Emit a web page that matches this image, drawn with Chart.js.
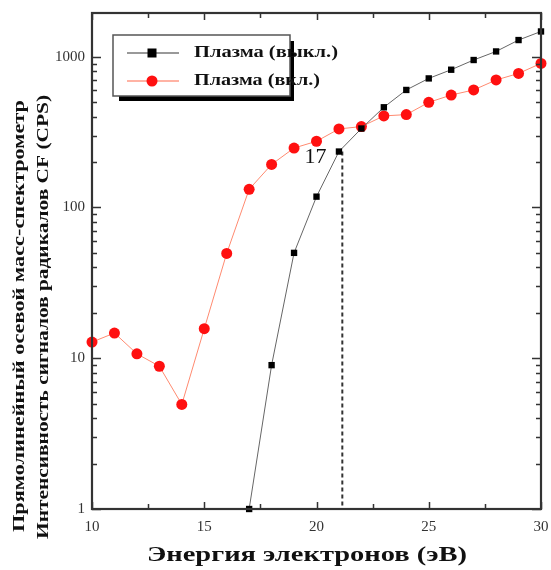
<!DOCTYPE html>
<html>
<head>
<meta charset="utf-8">
<script src="https://cdn.jsdelivr.net/npm/chart.js@4.4.0/dist/chart.umd.min.js"></script>
<style>
  body { margin: 0; background: #fff; }
</style>
</head>
<body>
<canvas id="massChart" width="551" height="570"></canvas>
<script>
const energy = [10, 11, 12, 13, 14, 15, 16, 17, 18, 19, 20, 21, 22, 23, 24, 25, 26, 27, 28, 29, 30];

const plasmaOff = [null, null, null, null, null, null, null,
  1, 9, 50, 118, 235, 334, 462, 602, 718, 820, 951, 1084, 1290, 1471];

const plasmaOn = [12.8, 14.7, 10.7, 8.85, 4.94, 15.7, 49.6, 132, 193, 248, 275,
  332, 344, 405, 413, 498, 557, 602, 701, 775, 903];

const markerEnergy = [21.15, 21.15];
const markerValues = [235, 1];
const markerLabel = "17";

const xTicks = [10, 15, 20, 25, 30];
const yTicks = [1, 10, 100, 1000];

const seriesNames = ["Плазма (выкл.)", "Плазма (вкл.)"];
const xTitle = "Энергия электронов (эВ)";
const yTitle = ["Прямолинейный осевой масс-спектрометр", "Интенсивность сигналов радикалов CF (CPS)"];

const SERIF = "'Liberation Serif', 'DejaVu Serif', serif";

function toPoints(xs, ys) {
  return xs.map((x, i) => ({ x: x, y: ys[i] })).filter((p) => p.y !== null);
}

// text squeezed or stretched along its baseline to a given width
function drawWideText(ctx, text, x, y, width, font, angle) {
  ctx.save();
  ctx.font = font;
  const w = ctx.measureText(text).width;
  ctx.translate(x, y);
  ctx.rotate(angle || 0);
  ctx.scale(width / w, 1);
  ctx.textAlign = "center";
  ctx.textBaseline = "middle";
  ctx.fillText(text, 0, 0);
  ctx.restore();
}

const framePlugin = {
  id: "frame",
  afterDatasetsDraw(chart) {
    const ctx = chart.ctx;
    const a = chart.chartArea;
    const xs = chart.scales.x;
    const ys = chart.scales.y;
    ctx.save();
    ctx.strokeStyle = "#333";
    ctx.lineWidth = 1.5;
    ctx.beginPath();
    // x ticks, inward, bottom and top
    for (let v = 10; v <= 30; v += 2.5) {
      const px = Math.round(xs.getPixelForValue(v)) + 0.5;
      const len = v % 5 === 0 ? 7 : 5;
      ctx.moveTo(px, a.bottom);
      ctx.lineTo(px, a.bottom - len);
      ctx.moveTo(px, a.top);
      ctx.lineTo(px, a.top + len);
    }
    // y ticks, log decades with minors
    for (let d = 1; d <= 1000; d *= 10) {
      for (let m = 1; m <= 9; m++) {
        const v = d * m;
        if (v > ys.max) break;
        const py = Math.round(ys.getPixelForValue(v)) + 0.5;
        const len = m === 1 ? 9 : 5;
        ctx.moveTo(a.left, py);
        ctx.lineTo(a.left + len, py);
        ctx.moveTo(a.right, py);
        ctx.lineTo(a.right - len, py);
      }
    }
    ctx.stroke();
    ctx.lineWidth = 2.2;
    ctx.strokeRect(a.left, a.top, a.right - a.left, a.bottom - a.top);

    // value label next to the marker
    ctx.fillStyle = "#111";
    ctx.font = "22px " + SERIF;
    ctx.textAlign = "center";
    ctx.textBaseline = "middle";
    ctx.fillText(markerLabel, xs.getPixelForValue(19.95), ys.getPixelForValue(214));

    // legend box
    const lx = 113, ly = 35, lw = 177, lh = 61;
    ctx.fillStyle = "#000";
    ctx.fillRect(lx + 6, ly + lh, lw - 2, 5);
    ctx.fillRect(lx + lw, ly + 6, 4, lh - 1);
    ctx.strokeStyle = "#555";
    ctx.lineWidth = 1.5;
    ctx.strokeRect(lx, ly, lw, lh);

    const rows = [
      { y: 53, line: "#777", mark: "#000", square: true, name: seriesNames[0], w: 144 },
      { y: 81, line: "#ff9a86", mark: "#ff1010", square: false, name: seriesNames[1], w: 126 },
    ];
    rows.forEach((r) => {
      ctx.strokeStyle = r.line;
      ctx.lineWidth = 1.5;
      ctx.beginPath();
      ctx.moveTo(127, r.y);
      ctx.lineTo(179, r.y);
      ctx.stroke();
      ctx.fillStyle = r.mark;
      if (r.square) {
        ctx.fillRect(147.5, r.y - 4.5, 9, 9);
      } else {
        ctx.beginPath();
        ctx.arc(152, r.y, 5.5, 0, Math.PI * 2);
        ctx.fill();
      }
      ctx.fillStyle = "#111";
      drawWideText(ctx, r.name, 194 + r.w / 2, r.y, r.w, "bold 16px " + SERIF);
    });

    // axis titles
    ctx.fillStyle = "#111";
    drawWideText(ctx, xTitle, 307, 556, 320, "bold 21px " + SERIF);
    drawWideText(ctx, yTitle[0], 20, 316, 432, "bold 17px " + SERIF, -Math.PI / 2);
    drawWideText(ctx, yTitle[1], 44, 317, 444, "bold 17px " + SERIF, -Math.PI / 2);
    ctx.restore();
  },
};

const chart = new Chart(document.getElementById("massChart"), {
  type: "line",
  data: {
    datasets: [
      {
        label: seriesNames[0],
        data: toPoints(energy, plasmaOff),
        borderColor: "#666",
        borderWidth: 1,
        pointStyle: "rect",
        pointRadius: 4.5,
        pointBackgroundColor: "#000",
        pointBorderWidth: 0,
        clip: false,
      },
      {
        label: seriesNames[1],
        data: toPoints(energy, plasmaOn),
        borderColor: "#ff8a70",
        borderWidth: 1,
        pointStyle: "circle",
        pointRadius: 5.5,
        pointBackgroundColor: "#ff1010",
        pointBorderWidth: 0,
        clip: false,
      },
      {
        label: "marker",
        data: toPoints(markerEnergy, markerValues),
        borderColor: "#333",
        borderWidth: 2,
        borderDash: [4, 3],
        pointRadius: 0,
      },
    ],
  },
  options: {
    responsive: false,
    animation: false,
    layout: {
      padding: { left: 0, right: 10, top: 13, bottom: 0 },
    },
    plugins: {
      legend: { display: false },
      tooltip: { enabled: false },
    },
    scales: {
      x: {
        type: "linear",
        min: 10,
        max: 30,
        afterFit(scale) {
          scale.height = 61;
          scale.paddingLeft = 0;
          scale.paddingRight = 0;
        },
        afterBuildTicks(scale) {
          scale.ticks = xTicks.map((v) => ({ value: v }));
        },
        ticks: {
          color: "#333",
          padding: 9,
          maxRotation: 0,
          font: { family: SERIF, size: 15 },
        },
        grid: { display: false, drawTicks: false },
        border: { display: false },
      },
      y: {
        type: "logarithmic",
        min: 1,
        max: 1950,
        afterFit(scale) {
          scale.width = 92;
          scale.paddingTop = 0;
          scale.paddingBottom = 0;
        },
        afterBuildTicks(scale) {
          scale.ticks = yTicks.map((v) => ({ value: v }));
        },
        ticks: {
          color: "#333",
          padding: 7,
          font: { family: SERIF, size: 15 },
          callback: (v) => String(v),
        },
        grid: { display: false, drawTicks: false },
        border: { display: false },
      },
    },
  },
  plugins: [framePlugin],
});
</script>
</body>
</html>
